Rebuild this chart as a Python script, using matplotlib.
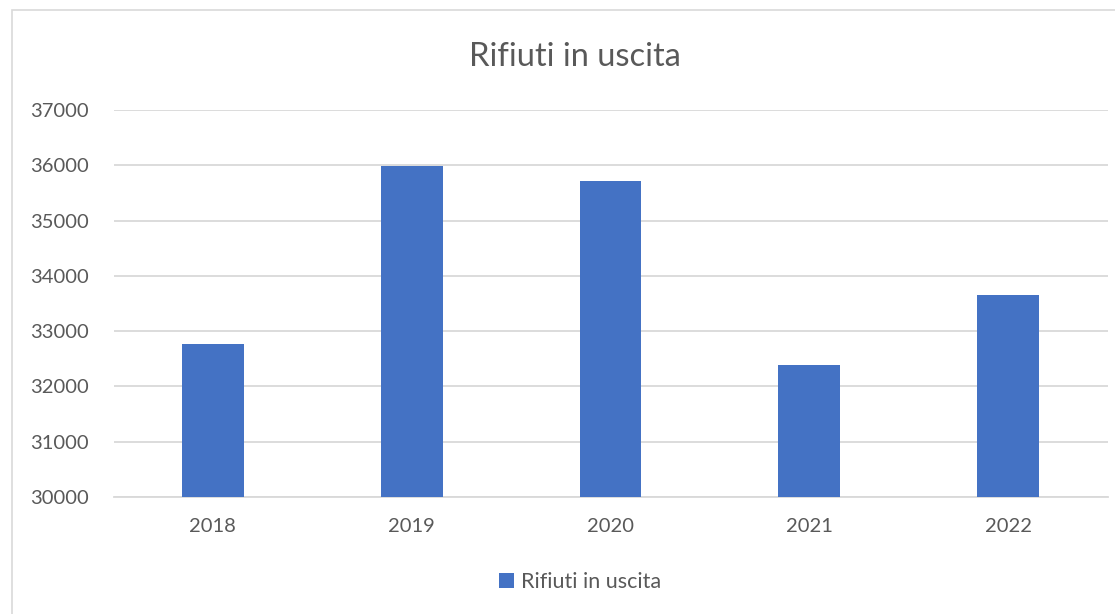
import matplotlib
matplotlib.use("Agg")
import matplotlib.pyplot as plt
from matplotlib.patches import Rectangle

years = ["2018", "2019", "2020", "2021", "2022"]
values = [32760, 35985, 35712, 32385, 33648]
series_name = "Rifiuti in uscita"
title = "Rifiuti in uscita"

plt.rcParams['font.family'] = ['Lato', 'DejaVu Sans']

W, H = 1115, 614
fig = plt.figure(figsize=(W / 100, H / 100), dpi=100)
fig.patch.set_facecolor("white")

# chart border
fig.add_artist(Rectangle((12 / W, -0.01), 1.2, 1 - 10 / H + 0.01, transform=fig.transFigure,
                         fill=False, edgecolor="#d9d9d9", linewidth=1.2))

ax = fig.add_axes([113.5 / W, 1 - 497 / H, 994 / W, 387 / H])
x = range(len(years))
bars = ax.bar(x, values, width=0.31, color="#4472c4", label=series_name, zorder=3)
ax.set_xlim(-0.5, len(years) - 0.5)
ax.set_ylim(30000, 37000)
ax.set_yticks(range(30000, 37001, 1000))
ax.set_xticks(list(x))
ax.set_xticklabels(years)
ax.grid(axis="y", color="#d9d9d9", linewidth=1.3, zorder=0)
for s in ["top", "right", "left"]:
    ax.spines[s].set_visible(False)
ax.spines["bottom"].set_color("#d9d9d9")
ax.spines["bottom"].set_linewidth(1.3)
ax.tick_params(axis="both", length=0, labelsize=14.5, colors="#595959")
ax.tick_params(axis="y", pad=18)
ax.tick_params(axis="x", pad=15)

fig.text(575 / W, 1 - 57 / H, title, ha="center", va="center", fontsize=23.5,
         color="#595959", fontweight="normal")

leg = fig.legend(handles=[bars], labels=[series_name], loc="center",
                 bbox_to_anchor=(580 / W, 1 - 582 / H), frameon=False,
                 fontsize=15.5, handlelength=0.7, handleheight=0.7, handletextpad=0.3)
for t in leg.get_texts():
    t.set_color("#595959")

fig.savefig("out.png", dpi=100)
